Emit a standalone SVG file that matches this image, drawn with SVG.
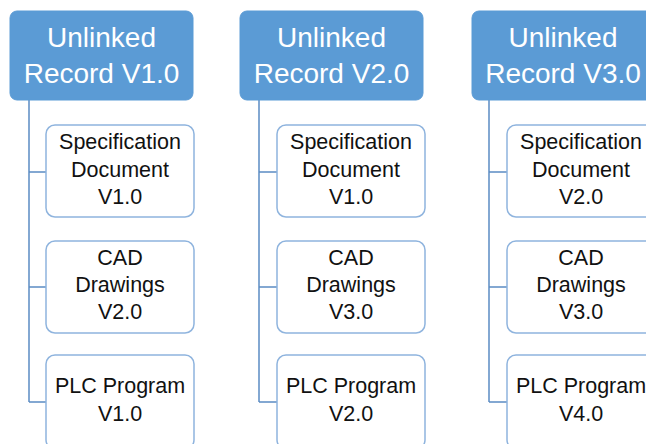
<svg xmlns="http://www.w3.org/2000/svg" width="646" height="444" viewBox="0 0 646 444">
<style>
.hdr{fill:#5B9BD5;stroke:#5B9BD5;stroke-width:1}
.hdr-t{font-family:"Liberation Sans",Arial,sans-serif;font-size:28px;fill:#FFFFFF;text-anchor:middle}
.box{fill:#FFFFFF;stroke:#8FB4DE;stroke-width:1.5}
.box-t{font-family:"Liberation Sans",Arial,sans-serif;font-size:21.5px;fill:#111111;text-anchor:middle}
.con{fill:none;stroke:#5B8CC4;stroke-width:1.5}
</style>
<rect width="646" height="444" fill="#FFFFFF"/>
<g id="connectors">
<path class="con" d="M29 100 V402 M29 172 H46 M29 287 H46 M29 402 H46"/>
<path class="con" d="M259 100 V402 M259 172 H277 M259 287 H277 M259 402 H277"/>
<path class="con" d="M489 100 V402 M489 172 H507 M489 287 H507 M489 402 H507"/>
</g>
<g id="rec1">
<rect class="hdr" x="10" y="11" width="183" height="89" rx="7"/>
<text class="hdr-t" x="101.5" y="47">Unlinked</text>
<text class="hdr-t" x="101.5" y="83">Record V1.0</text>
</g>
<g id="rec1-spec">
<rect class="box" x="46" y="125" width="148" height="92" rx="9"/>
<text class="box-t" x="120" y="149">Specification</text>
<text class="box-t" x="120" y="177">Document</text>
<text class="box-t" x="120" y="204">V1.0</text>
</g>
<g id="rec1-cad">
<rect class="box" x="46" y="241" width="148" height="92" rx="9"/>
<text class="box-t" x="120" y="265">CAD</text>
<text class="box-t" x="120" y="292">Drawings</text>
<text class="box-t" x="120" y="319">V2.0</text>
</g>
<g id="rec1-plc">
<rect class="box" x="46" y="355" width="148" height="94" rx="9"/>
<text class="box-t" x="120" y="393">PLC Program</text>
<text class="box-t" x="120" y="421">V1.0</text>
</g>
<g id="rec2">
<rect class="hdr" x="240" y="11" width="183" height="89" rx="7"/>
<text class="hdr-t" x="331.5" y="47">Unlinked</text>
<text class="hdr-t" x="331.5" y="83">Record V2.0</text>
</g>
<g id="rec2-spec">
<rect class="box" x="277" y="125" width="148" height="92" rx="9"/>
<text class="box-t" x="351" y="149">Specification</text>
<text class="box-t" x="351" y="177">Document</text>
<text class="box-t" x="351" y="204">V1.0</text>
</g>
<g id="rec2-cad">
<rect class="box" x="277" y="241" width="148" height="92" rx="9"/>
<text class="box-t" x="351" y="265">CAD</text>
<text class="box-t" x="351" y="292">Drawings</text>
<text class="box-t" x="351" y="319">V3.0</text>
</g>
<g id="rec2-plc">
<rect class="box" x="277" y="355" width="148" height="94" rx="9"/>
<text class="box-t" x="351" y="393">PLC Program</text>
<text class="box-t" x="351" y="421">V2.0</text>
</g>
<g id="rec3">
<rect class="hdr" x="472" y="11" width="183" height="89" rx="7"/>
<text class="hdr-t" x="563" y="47">Unlinked</text>
<text class="hdr-t" x="563" y="83">Record V3.0</text>
</g>
<g id="rec3-spec">
<rect class="box" x="507" y="125" width="148" height="92" rx="9"/>
<text class="box-t" x="581" y="149">Specification</text>
<text class="box-t" x="581" y="177">Document</text>
<text class="box-t" x="581" y="204">V2.0</text>
</g>
<g id="rec3-cad">
<rect class="box" x="507" y="241" width="148" height="92" rx="9"/>
<text class="box-t" x="581" y="265">CAD</text>
<text class="box-t" x="581" y="292">Drawings</text>
<text class="box-t" x="581" y="319">V3.0</text>
</g>
<g id="rec3-plc">
<rect class="box" x="507" y="355" width="148" height="94" rx="9"/>
<text class="box-t" x="581" y="393">PLC Program</text>
<text class="box-t" x="581" y="421">V4.0</text>
</g>
</svg>
